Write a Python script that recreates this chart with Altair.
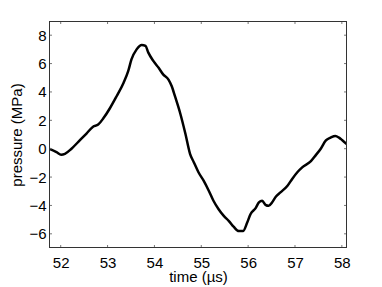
import altair as alt
import pandas as pd

time_us = [51.75, 51.91, 52.01, 52.09, 52.23, 52.41, 52.55, 52.69, 52.80, 52.91,
           53.05, 53.19, 53.34, 53.44, 53.51, 53.62, 53.73, 53.81, 53.87, 53.98,
           54.09, 54.19, 54.30, 54.37, 54.44, 54.55, 54.66, 54.76, 54.84, 54.94,
           55.05, 55.16, 55.26, 55.37, 55.48, 55.59, 55.69, 55.80, 55.89, 55.98,
           56.05, 56.16, 56.23, 56.30, 56.37, 56.44, 56.51, 56.59, 56.69, 56.84,
           56.94, 57.05, 57.16, 57.34, 57.44, 57.55, 57.66, 57.76, 57.86, 57.94,
           58.01, 58.11]
pressure = [0.00, -0.24, -0.42, -0.36, 0.00, 0.60, 1.07, 1.55, 1.70, 2.14,
            2.85, 3.68, 4.63, 5.46, 6.29, 7.00, 7.31, 7.24, 6.77, 6.17,
            5.70, 5.22, 4.87, 4.40, 3.68, 2.50, 1.07, -0.36, -0.95, -1.66,
            -2.25, -2.96, -3.67, -4.27, -4.74, -5.10, -5.50, -5.81, -5.81, -5.21,
            -4.62, -4.19, -3.79, -3.67, -3.96, -4.03, -3.79, -3.39, -3.08, -2.61,
            -2.13, -1.66, -1.30, -0.88, -0.47, 0.00, 0.59, 0.78, 0.90, 0.78,
            0.59, 0.31]

x_ticks = [52, 53, 54, 55, 56, 57, 58]
y_ticks = [-6, -4, -2, 0, 2, 4, 6, 8]

W, H = 298, 227
FONT = "Liberation Sans"
xs = alt.Scale(domain=[51.75, 58.11], nice=False, zero=False)
ys = alt.Scale(domain=[-7, 9], nice=False, zero=False)

df = pd.DataFrame({"t": time_us, "p": pressure})
dfx = pd.DataFrame({"t": x_ticks})
dfy = pd.DataFrame({"p": y_ticks})
one = pd.DataFrame({"k": [0]})

x_axis = alt.Axis(values=x_ticks, title="time (µs)", tickSize=0, domain=False, grid=False,
                  labelPadding=7, titleBaseline="alphabetic", titleY=33)
y_axis = alt.Axis(values=y_ticks, title="pressure (MPa)", tickSize=0, domain=False, grid=False,
                  labelPadding=3, titlePadding=4)

line = alt.Chart(df).mark_line(color="black", strokeWidth=2.5, interpolate="monotone", clip=True).encode(
    x=alt.X("t:Q", scale=xs, axis=x_axis),
    y=alt.Y("p:Q", scale=ys, axis=y_axis),
)

tick_color = "#777777"
TL = 3
xb = alt.Chart(dfx).mark_rule(color=tick_color, strokeWidth=1).encode(
    x=alt.X("t:Q", scale=xs, axis=x_axis), y=alt.value(H), y2=alt.value(H - TL))
xt = alt.Chart(dfx).mark_rule(color=tick_color, strokeWidth=1).encode(
    x=alt.X("t:Q", scale=xs, axis=x_axis), y=alt.value(0), y2=alt.value(TL))
yl = alt.Chart(dfy).mark_rule(color=tick_color, strokeWidth=1).encode(
    y=alt.Y("p:Q", scale=ys, axis=y_axis), x=alt.value(0), x2=alt.value(TL))
yr = alt.Chart(dfy).mark_rule(color=tick_color, strokeWidth=1).encode(
    y=alt.Y("p:Q", scale=ys, axis=y_axis), x=alt.value(W), x2=alt.value(W - TL))

frame_color = "#333333"
fl = alt.Chart(one).mark_rule(color=frame_color, strokeWidth=1).encode(
    x=alt.value(0.5), y=alt.value(0), y2=alt.value(H))
fr = alt.Chart(one).mark_rule(color=frame_color, strokeWidth=1).encode(
    x=alt.value(W - 0.5), y=alt.value(0), y2=alt.value(H))
ft = alt.Chart(one).mark_rule(color=frame_color, strokeWidth=1).encode(
    y=alt.value(0.5), x=alt.value(0), x2=alt.value(W))
fb = alt.Chart(one).mark_rule(color=frame_color, strokeWidth=1).encode(
    y=alt.value(H - 0.5), x=alt.value(0), x2=alt.value(W))

chart = alt.layer(line, xb, xt, yl, yr, fl, fr, ft, fb).properties(
    width=W, height=H,
    background="white",
    autosize=alt.AutoSizeParams(type="none"),
    padding={"left": 41, "top": 13, "right": 27, "bottom": 37},
).configure_view(strokeWidth=0).configure_axis(
    labelFont=FONT, titleFont=FONT, labelFontSize=15, titleFontSize=15,
    labelColor="black", titleColor="black", titleFontWeight="normal",
)

chart.save("out.html", embed_options={"renderer": "svg", "actions": False})
